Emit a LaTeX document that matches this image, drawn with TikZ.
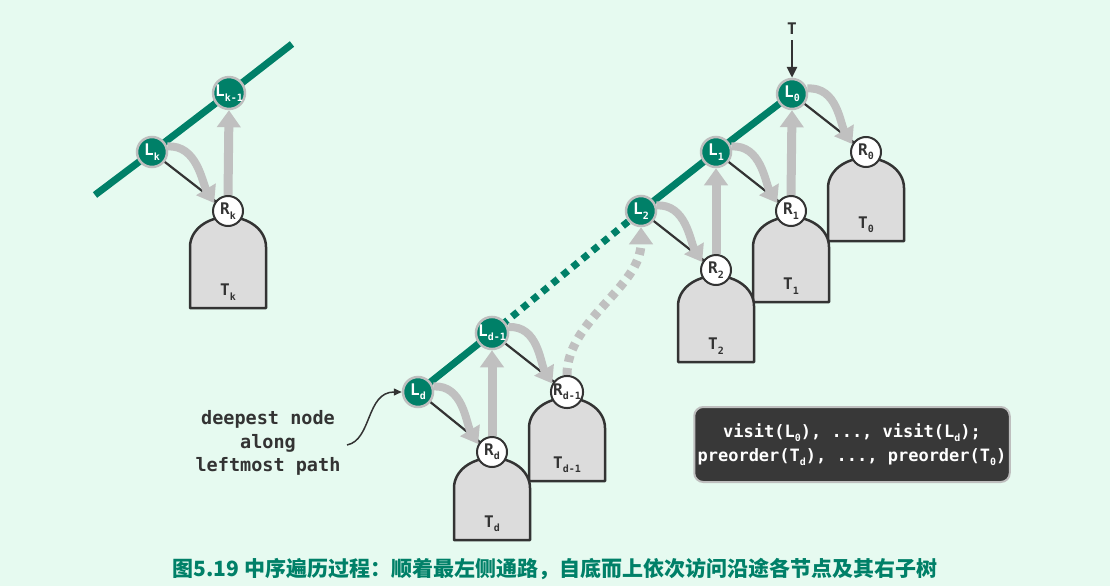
\documentclass[tikz,border=0pt]{standalone}
\usepackage{fontspec}
\setmainfont{DejaVu Sans Mono}
\newfontfamily\capfont{Noto Sans CJK SC}
\usetikzlibrary{arrows.meta}

\definecolor{paper}{RGB}{230,250,240}
\definecolor{spinegreen}{RGB}{0,128,104}
\definecolor{ink}{RGB}{51,51,51}
\definecolor{flowgray}{RGB}{192,192,192}
\definecolor{ringgray}{RGB}{190,190,190}
\definecolor{treefill}{RGB}{220,220,220}
\definecolor{codebg}{RGB}{56,56,56}

\newcommand\lsub[1]{\raisebox{-0.5ex}{\fontsize{10}{10}\selectfont#1}}

\pgfdeclarelayer{back}
\pgfdeclarelayer{trees}
\pgfdeclarelayer{flow}
\pgfsetlayers{back,trees,flow,main}

% subtree body: #1 name, #2 x, #3 y of its root, #4 height, #5 label
\newcommand\subtree[5]{%
  \begin{pgfonlayer}{trees}
    \draw[treebody] (#2-38,#3+#4) -- (#2-38,#3+36)
      .. controls (#2-38,#3+19) and (#2-21,#3+6) .. (#2,#3+6)
      .. controls (#2+21,#3+6) and (#2+38,#3+19) .. (#2+38,#3+36)
      -- (#2+38,#3+#4) -- cycle;
  \end{pgfonlayer}
  \node[treelabel] (#1) at (#2,#3+#4-16) {#5};
}

\begin{document}
\begin{tikzpicture}[x=1pt,y=-1pt,
  lnode/.style={circle,fill=spinegreen,draw=ringgray,line width=2.5pt,
    minimum size=30pt,inner sep=0pt,text=white,
    font=\bfseries\fontsize{16}{16}\selectfont},
  rnode/.style={circle,fill=white,draw=ink,line width=2pt,
    minimum size=30pt,inner sep=0pt,text=ink,
    font=\bfseries\fontsize{16}{16}\selectfont},
  treelabel/.style={text=ink,inner sep=0pt,font=\bfseries\fontsize{16}{16}\selectfont},
  treebody/.style={fill=treefill,draw=ink,line width=2.5pt,line join=round},
  spine/.style={draw=spinegreen,line width=7pt},
  spinedot/.style={spine,dash pattern=on 7pt off 6pt},
  edge/.style={draw=ink,line width=2.2pt},
  turn/.style={draw=flowgray,line width=8pt,-{Triangle[width=22pt,length=16pt]}},
  climb/.style={draw=flowgray,line width=9pt,-{Triangle[width=23pt,length=17pt]}},
  climbdot/.style={climb,dash pattern=on 7pt off 6pt},
  pointer/.style={draw=ink,line width=1.5pt,-{Triangle[width=7pt,length=8pt]}}
]
\begin{pgfonlayer}{back}
  \fill[paper] (0,0) rectangle (1110,586);
\end{pgfonlayer}

% left fragment of the leftmost path
\node[lnode] (Lk)  at (152,152) {L\lsub{k}};
\node[lnode] (Lk1) at (229,93)  {L\lsub{k-1}};
\node[rnode] (Rk)  at (228,211) {R\lsub{k}};
\subtree{Tk}{228}{211}{97}{T\lsub{k}}

% right part: from the root down to the deepest node
\node[lnode] (L0)  at (792,94)  {L\lsub{0}};
\node[lnode] (L1)  at (716,152) {L\lsub{1}};
\node[lnode] (L2)  at (641,211) {L\lsub{2}};
\node[lnode] (Ld1) at (492,333) {L\lsub{d-1}};
\node[lnode] (Ld)  at (418,392) {L\lsub{d}};
\node[rnode] (R0)  at (866,152) {R\lsub{0}};
\node[rnode] (R1)  at (791,211) {R\lsub{1}};
\node[rnode] (R2)  at (716,270) {R\lsub{2}};
\node[rnode] (Rd1) at (567,392) {R\lsub{d-1}};
\node[rnode] (Rd)  at (492,452) {R\lsub{d}};
\subtree{T0}{866}{152}{89}{T\lsub{0}}
\subtree{T1}{791}{211}{91}{T\lsub{1}}
\subtree{T2}{716}{270}{92}{T\lsub{2}}
\subtree{Td1}{567}{392}{89}{T\lsub{d-1}}
\subtree{Td}{492}{452}{88}{T\lsub{d}}

% entry pointer
\node[treelabel] (T) at (792,29) {T};
\draw[draw=ink,line width=2.5pt,-{Triangle[width=10pt,length=11pt]}] (T.south) ++(0,5) -- (L0.north);

\begin{pgfonlayer}{back}
  \coordinate (kA) at (95,195);
  \coordinate (kB) at (292,44);
  \draw[spine] (kA) -- (Lk.center) -- (Lk1.center) -- (kB);
  \draw[spine] (Ld.center) -- (Ld1.center);
  \draw[spinedot] (Ld1.center) -- (L2.center);
  \draw[spine] (L2.center) -- (L1.center) -- (L0.center);
  \draw[edge] (Lk.center) -- (Rk.center);
  \draw[edge] (L0.center) -- (R0.center);
  \draw[edge] (L1.center) -- (R1.center);
  \draw[edge] (L2.center) -- (R2.center);
  \draw[edge] (Ld1.center) -- (Rd1.center);
  \draw[edge] (Ld.center) -- (Rd.center);
\end{pgfonlayer}

\begin{pgfonlayer}{flow}
  \foreach \a/\b in {Lk/Rk,L0/R0,L1/R1,L2/R2,Ld1/Rd1,Ld/Rd}{
    \draw[turn] (\a.20) .. controls +(30,-2) and +(-12,-20) .. (\b.150);
  }
  \draw[climb] (Rk.north) -- (Lk1.south);
  \draw[climb] (R1.north) -- (L0.south);
  \draw[climb] (R2.north) -- (L1.south);
  \draw[climb] (Rd.north) -- (Ld1.south);
  \draw[climbdot] (Rd1.north) .. controls +(0,-55) and +(0,60) .. (L2.south);
\end{pgfonlayer}

% annotation
\node[align=center,text=ink,inner sep=0pt,
  font=\bfseries\fontsize{18.5}{23.5}\selectfont] (note) at (268,443)
  {deepest node\\along\\leftmost path};
\coordinate (noteTail) at (347,445);
\draw[pointer] (noteTail) .. controls (372,440) and (366,392) .. (Ld.180);

% summary box
\node[fill=codebg,draw=ringgray,line width=2pt,rounded corners=9pt,
  minimum width=311pt,minimum height=75pt,align=center,text=white,
  font=\bfseries\fontsize{17}{24}\selectfont] (code) at (852,444.5)
  {visit(L\lsub{0}), ..., visit(L\lsub{d});\\preorder(T\lsub{d}), ..., preorder(T\lsub{0})};

% caption
\node[text=spinegreen,inner sep=0pt,font=\capfont\bfseries\fontsize{21}{21}\selectfont]
  (caption) at (555,569)
  {图5.19 中序遍历过程：顺着最左侧通路，自底而上依次访问沿途各节点及其右子树};
\end{tikzpicture}
\end{document}
